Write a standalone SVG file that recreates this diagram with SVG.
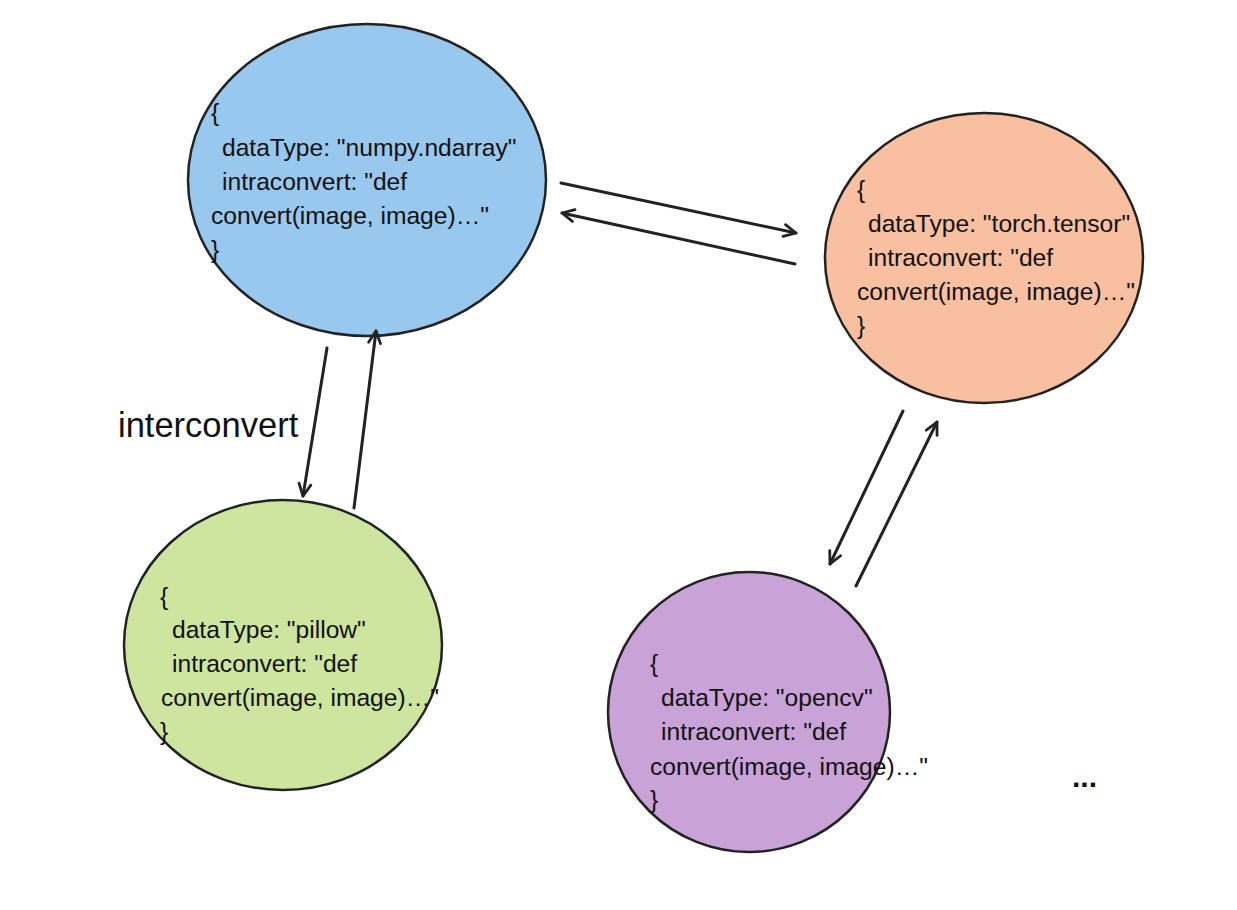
<svg xmlns="http://www.w3.org/2000/svg" width="1237" height="910" viewBox="0 0 1237 910">
<style>
.node{stroke:#222;stroke-width:2.5}
.t{font-family:"Liberation Sans",Arial,sans-serif;font-size:24.6px;fill:#111}
.c{fill:none;stroke:#222;stroke-width:3;stroke-linecap:round}
</style>
<defs>
<marker id="ah" viewBox="0 0 16 16" refX="14" refY="8" markerWidth="16" markerHeight="16" markerUnits="userSpaceOnUse" orient="auto">
<path d="M2,2 L14,8 L2,14" fill="none" stroke="#222" stroke-width="2.8" stroke-linecap="round" stroke-linejoin="round"/>
</marker>
</defs>
<rect width="1237" height="910" fill="#fff"/>
<g id="numpy">
<ellipse class="node" cx="367" cy="180" rx="179" ry="156" fill="#99c8ee"/>
<text class="t"><tspan x="211" y="121">{</tspan><tspan x="222" y="156">dataType: "numpy.ndarray"</tspan><tspan x="222" y="190">intraconvert: "def</tspan><tspan x="211" y="224">convert(image, image)…"</tspan><tspan x="211" y="258">}</tspan></text>
</g>
<g id="torch">
<ellipse class="node" cx="984" cy="258" rx="159" ry="145" fill="#f8c0a0"/>
<text class="t"><tspan x="857" y="198">{</tspan><tspan x="868" y="232">dataType: "torch.tensor"</tspan><tspan x="868" y="266">intraconvert: "def</tspan><tspan x="857" y="300">convert(image, image)…"</tspan><tspan x="857" y="334">}</tspan></text>
</g>
<g id="pillow">
<ellipse class="node" cx="283" cy="645" rx="159" ry="145" fill="#cde59e"/>
<text class="t"><tspan x="160" y="605">{</tspan><tspan x="172" y="638">dataType: "pillow"</tspan><tspan x="172" y="672">intraconvert: "def</tspan><tspan x="161" y="706">convert(image, image)…"</tspan><tspan x="160" y="740">}</tspan></text>
</g>
<g id="opencv">
<ellipse class="node" cx="749" cy="712" rx="141" ry="140" fill="#c9a3d8"/>
<text class="t"><tspan x="650" y="672">{</tspan><tspan x="661" y="706">dataType: "opencv"</tspan><tspan x="661" y="740">intraconvert: "def</tspan><tspan x="650" y="775">convert(image, image)…"</tspan><tspan x="650" y="808">}</tspan></text>
</g>
<g id="connectors">
<line class="c" x1="561" y1="183" x2="796" y2="233" marker-end="url(#ah)"/>
<line class="c" x1="795" y1="264" x2="562" y2="213" marker-end="url(#ah)"/>
<line class="c" x1="327" y1="348" x2="303" y2="496" marker-end="url(#ah)"/>
<line class="c" x1="354" y1="508" x2="376" y2="331" marker-end="url(#ah)"/>
<line class="c" x1="903" y1="411" x2="830" y2="564" marker-end="url(#ah)"/>
<line class="c" x1="856" y1="586" x2="937" y2="422" marker-end="url(#ah)"/>
</g>
<text x="118" y="437" style="font-family:'Liberation Sans',Arial,sans-serif;font-size:34.5px;fill:#111">interconvert</text>
<text x="1072" y="787" style="font-family:'Liberation Sans',Arial,sans-serif;font-size:30px;font-weight:bold;fill:#111">...</text>
</svg>
